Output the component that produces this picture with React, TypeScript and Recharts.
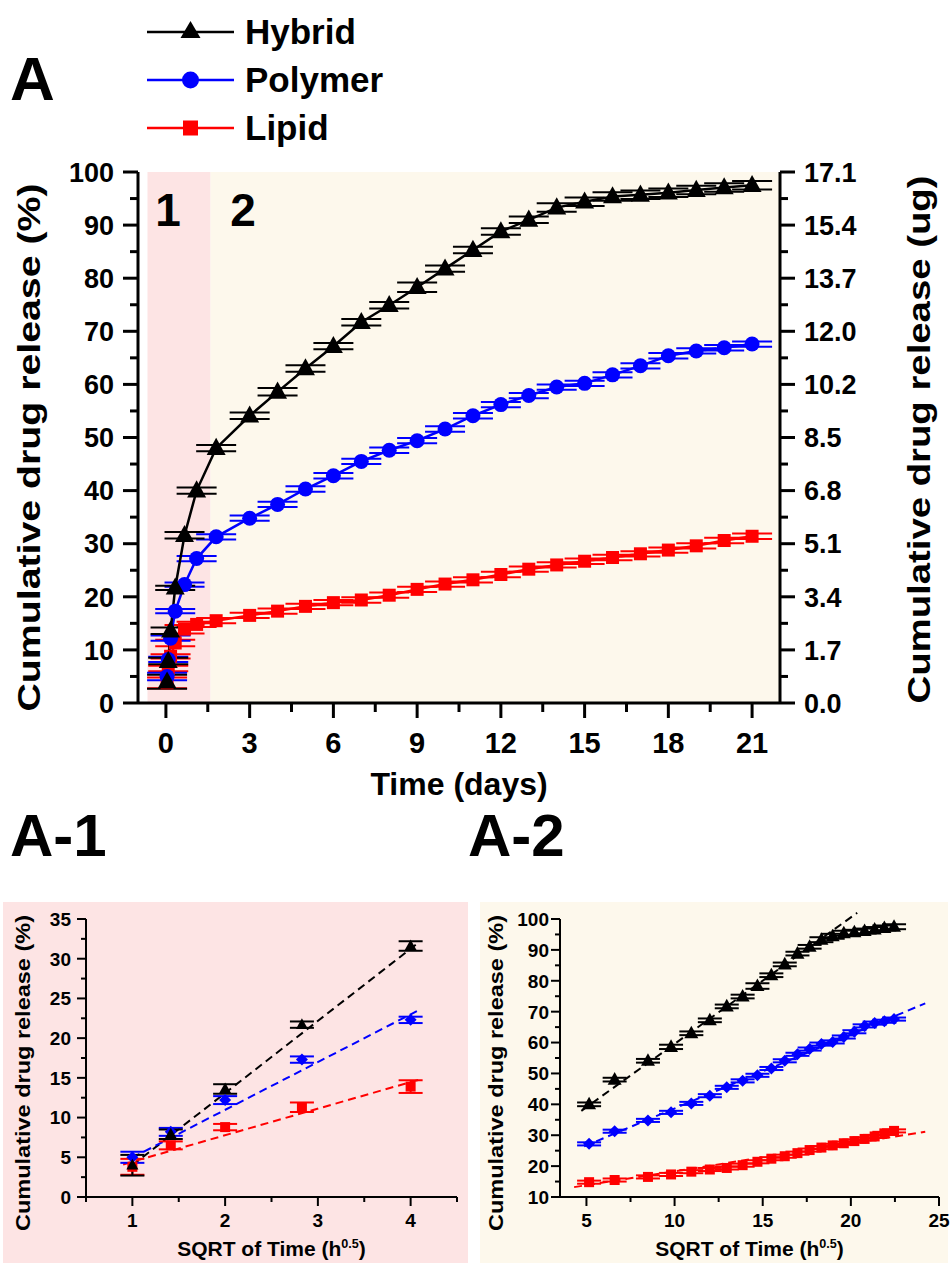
import React from 'react';
import { LineChart, Line, XAxis, YAxis, ReferenceArea, ReferenceLine, ErrorBar } from 'recharts';

const FONT = '"Liberation Sans", Arial, Helvetica, sans-serif';
const PINK = '#fde4e4';
const CREAM = '#fdf8ec';
const BLACK = '#000000';
const BLUE = '#0000ff';
const RED = '#ff0000';

// Panel A: time points (days) and cumulative release (%)
const TIME_DAYS = [0.042, 0.083, 0.167, 0.333, 0.667, 1.1, 1.8, 3, 4, 5, 6, 7, 8, 9, 10, 11, 12, 13, 14, 15, 16, 17, 18, 19, 20, 21];
const HYBRID = [4.0, 7.9, 13.6, 21.7, 31.6, 40.0, 48.0, 54.1, 58.6, 63.0, 67.2, 71.7, 74.9, 78.3, 81.8, 85.3, 88.8, 91.0, 93.3, 94.4, 95.4, 95.7, 96.1, 96.6, 97.1, 97.5];
const POLYMER = [5.0, 8.2, 12.2, 17.3, 22.3, 27.2, 31.3, 34.8, 37.4, 40.3, 42.8, 45.5, 47.6, 49.4, 51.6, 54.1, 56.2, 57.9, 59.5, 60.2, 61.8, 63.5, 65.4, 66.3, 66.9, 67.6];
const LIPID = [3.8, 6.5, 8.8, 11.3, 13.9, 14.8, 15.5, 16.5, 17.3, 18.2, 18.9, 19.4, 20.3, 21.4, 22.4, 23.2, 24.2, 25.2, 26.0, 26.7, 27.4, 28.1, 28.8, 29.6, 30.6, 31.4];
const HYBRID_ERR = [1.3, 0.6, 0.6, 0.4, 0.6, 0.6, 0.6, 0.6, 0.7, 0.6, 0.6, 0.6, 0.6, 0.9, 0.6, 0.6, 0.6, 0.6, 0.8, 0.8, 0.8, 0.8, 0.8, 0.8, 0.8, 0.8];
const POLYMER_ERR = [0.7, 0.5, 0.5, 0.4, 0.4, 0.5, 0.5, 0.5, 0.5, 0.5, 0.5, 0.5, 0.5, 0.5, 0.5, 0.5, 0.5, 0.5, 0.5, 0.5, 0.5, 0.5, 0.5, 0.5, 0.5, 0.5];
const LIPID_ERR = [1.0, 0.5, 0.4, 0.6, 0.8, 0.5, 0.5, 0.5, 0.5, 0.5, 0.5, 0.5, 0.5, 0.5, 0.5, 0.5, 0.5, 0.5, 0.5, 0.5, 0.5, 0.5, 0.5, 0.5, 0.5, 0.5];

const X_MAJOR_A = [0, 3, 6, 9, 12, 15, 18, 21];
const X_MINOR_A = [1.5, 4.5, 7.5, 10.5, 13.5, 16.5, 19.5];
const Y_MAJOR_A = [0, 10, 20, 30, 40, 50, 60, 70, 80, 90, 100];
const Y_MINOR_A = [5, 15, 25, 35, 45, 55, 65, 75, 85, 95];
const RIGHT_LABELS = ['0.0', '1.7', '3.4', '5.1', '6.8', '8.5', '10.2', '12.0', '13.7', '15.4', '17.1'];

// Panel A-1: sqrt(time) for the first five points
const SQRT_A1 = [1, 1.414, 2, 2.828, 4];
const X_MAJOR_A1 = [1, 2, 3, 4];
const X_MINOR_A1 = [0.5, 1.5, 2.5, 3.5, 4.5];
const Y_MAJOR_A1 = [0, 5, 10, 15, 20, 25, 30, 35];
const Y_MINOR_A1 = [2.5, 7.5, 12.5, 17.5, 22.5, 27.5, 32.5];
const HYBRID_FIT_A1 = [{ x: 1, y: 4.0 }, { x: 4.06, y: 31.8 }];
const POLYMER_FIT_A1 = [{ x: 1, y: 4.96 }, { x: 4.1, y: 23.6 }];
const LIPID_FIT_A1 = [{ x: 0.9, y: 4.1 }, { x: 4.1, y: 14.8 }];

// Panel A-2: sqrt(time) for the remaining points
const SQRT_A2 = [5.15, 6.6, 8.49, 9.8, 10.95, 12.0, 12.96, 13.86, 14.7, 15.49, 16.25, 16.97, 17.66, 18.33, 18.97, 19.6, 20.2, 20.78, 21.35, 21.9, 22.45];
const X_MAJOR_A2 = [5, 10, 15, 20, 25];
const X_MINOR_A2 = [7.5, 12.5, 17.5, 22.5];
const Y_MAJOR_A2 = [10, 20, 30, 40, 50, 60, 70, 80, 90, 100];
const Y_MINOR_A2 = [15, 25, 35, 45, 55, 65, 75, 85, 95];
const HYBRID_FIT_A2 = [{ x: 4.71, y: 37.9 }, { x: 20.36, y: 102 }];
const POLYMER_FIT_A2 = [{ x: 4.87, y: 26.4 }, { x: 24.22, y: 72.7 }];
const LIPID_FIT_A2 = [{ x: 4.3, y: 13.2 }, { x: 24.22, y: 31.1 }];

const mainData = TIME_DAYS.map((t, i) => ({
    t, h: HYBRID[i], p: POLYMER[i], l: LIPID[i], hE: HYBRID_ERR[i], pE: POLYMER_ERR[i], lE: LIPID_ERR[i],
}));
const a1Data = SQRT_A1.map((s, i) => ({
    s, h: HYBRID[i], p: POLYMER[i], l: LIPID[i], hE: HYBRID_ERR[i], pE: POLYMER_ERR[i], lE: LIPID_ERR[i],
}));
const a2Data = SQRT_A2.map((s, k) => {
    const i = k + 5;
    return { s, h: HYBRID[i], p: POLYMER[i], l: LIPID[i], hE: HYBRID_ERR[i], pE: POLYMER_ERR[i], lE: LIPID_ERR[i] };
});

// markers
const triangle = (size: number, color: string) => (props: any) => {
    const { cx, cy, index } = props;
    if (cx == null || cy == null) return <g key={index} />;
    const h = size * 0.9;
    return <path key={index} d={`M${cx},${cy - h * 0.6} L${cx + size / 2},${cy + h * 0.4} L${cx - size / 2},${cy + h * 0.4} Z`} fill={color} />;
};
const circle = (r: number, color: string) => (props: any) => {
    const { cx, cy, index } = props;
    if (cx == null || cy == null) return <g key={index} />;
    return <circle key={index} cx={cx} cy={cy} r={r} fill={color} />;
};
const square = (size: number, color: string) => (props: any) => {
    const { cx, cy, index } = props;
    if (cx == null || cy == null) return <g key={index} />;
    return <rect key={index} x={cx - size / 2} y={cy - size / 2} width={size} height={size} fill={color} />;
};
const diamond = (size: number, color: string) => (props: any) => {
    const { cx, cy, index } = props;
    if (cx == null || cy == null) return <g key={index} />;
    const s = size / 2;
    return <path key={index} d={`M${cx},${cy - s} L${cx + s},${cy} L${cx},${cy + s} L${cx - s},${cy} Z`} fill={color} />;
};

type TickOpts = { orient: 'bottom' | 'left' | 'right'; majors: number[]; fontSize: number; major: number; minor: number; gap: number; labels?: string[] };

const makeTick = (o: TickOpts) => (props: any) => {
    const { x, y, payload } = props;
    const v = payload.value;
    const isMajor = o.majors.includes(v);
    const len = isMajor ? o.major : o.minor;
    const label = o.labels ? o.labels[o.majors.indexOf(v)] : String(v);
    const sw = o.fontSize > 24 ? 3 : 2;
    if (o.orient === 'bottom') {
        return (
            <g>
                <line x1={x} x2={x} y1={y} y2={y + len} stroke={BLACK} strokeWidth={sw} />
                {isMajor && <text x={x} y={y + o.gap} textAnchor="middle" fontSize={o.fontSize} fontWeight={700} fontFamily={FONT} fill={BLACK}>{label}</text>}
            </g>
        );
    }
    const sign = o.orient === 'left' ? -1 : 1;
    return (
        <g>
            <line x1={x} x2={x + sign * len} y1={y} y2={y} stroke={BLACK} strokeWidth={sw} />
            {isMajor && (
                <text x={x + sign * (o.major + o.gap)} y={y} dy="0.36em" textAnchor={o.orient === 'left' ? 'end' : 'start'}
                    fontSize={o.fontSize} fontWeight={700} fontFamily={FONT} fill={BLACK}>{label}</text>
            )}
        </g>
    );
};

const vTitle = (text: string, dx: number, dy: number, fontSize: number, length: number) => (props: any) => {
    const vb = props.viewBox;
    const cx = vb.x + dx;
    const cy = vb.y + vb.height / 2 + dy;
    return (
        <text x={cx} y={cy} transform={`rotate(-90 ${cx} ${cy})`} textAnchor="middle" dominantBaseline="central"
            fontSize={fontSize} fontWeight={700} fontFamily={FONT} fill={BLACK} textLength={length} lengthAdjust="spacingAndGlyphs">
            {text}
        </text>
    );
};

const hTitle = (dy: number, fontSize: number, sup: boolean, text: string) => (props: any) => {
    const vb = props.viewBox;
    const cx = vb.x + vb.width / 2;
    return (
        <text x={cx} y={vb.y + dy} textAnchor="middle" fontSize={fontSize} fontWeight={700} fontFamily={FONT} fill={BLACK}>
            {text}
            {sup && <tspan fontSize={fontSize * 0.6} dy={-fontSize * 0.4}>0.5</tspan>}
            {sup && <tspan dy={fontSize * 0.4}>)</tspan>}
        </text>
    );
};

const axisLine = (w: number) => ({ stroke: BLACK, strokeWidth: w });

function MainChart() {
    const yTicks = [...Y_MAJOR_A, ...Y_MINOR_A].sort((a, b) => a - b);
    return (
        <LineChart width={952} height={820} data={mainData} margin={{ top: 172, right: 92, bottom: 57, left: 78 }}>
            <XAxis dataKey="t" type="number" domain={[-1, 22]} ticks={[...X_MAJOR_A, ...X_MINOR_A].sort((a, b) => a - b)} interval={0}
                tickSize={0} tickMargin={0} tickLine={false} axisLine={axisLine(3)} height={60}
                tick={makeTick({ orient: 'bottom', majors: X_MAJOR_A, fontSize: 29, major: 15, minor: 9, gap: 50 })}
                label={hTitle(92, 32, false, 'Time (days)')} />
            <YAxis yAxisId="left" type="number" domain={[0, 100]} ticks={yTicks} interval={0}
                tickSize={0} tickMargin={0} tickLine={false} axisLine={axisLine(3)} width={60}
                tick={makeTick({ orient: 'left', majors: Y_MAJOR_A, fontSize: 27, major: 15, minor: 8, gap: 9 })}
                label={vTitle('Cumulative drug release (%)', -49, 10, 31, 528)} />
            <YAxis yAxisId="right" orientation="right" type="number" domain={[0, 100]} ticks={yTicks} interval={0}
                tickSize={0} tickMargin={0} tickLine={false} axisLine={axisLine(3)} width={80}
                tick={makeTick({ orient: 'right', majors: Y_MAJOR_A, fontSize: 27, major: 15, minor: 8, gap: 9, labels: RIGHT_LABELS })}
                label={vTitle('Cumulative drug release (ug)', 139, 2, 31, 528)} />
            <ReferenceArea yAxisId="left" x1={-0.66} x2={1.6} y1={0} y2={100} fill={PINK} fillOpacity={1} stroke="none" />
            <ReferenceArea yAxisId="left" x1={1.6} x2={22} y1={0} y2={100} fill={CREAM} fillOpacity={1} stroke="none" />
            {/* the ug axis is the same scale as %, this hidden series just keeps it on screen */}
            <Line yAxisId="right" dataKey="h" stroke="none" dot={false} activeDot={false} isAnimationActive={false} />
            <Line yAxisId="left" dataKey="l" stroke={RED} strokeWidth={2.5} dot={square(13, RED)} activeDot={false} isAnimationActive={false}>
                <ErrorBar dataKey="lE" width={20} stroke={RED} strokeWidth={2} />
            </Line>
            <Line yAxisId="left" dataKey="p" stroke={BLUE} strokeWidth={2.5} dot={circle(7.5, BLUE)} activeDot={false} isAnimationActive={false}>
                <ErrorBar dataKey="pE" width={20} stroke={BLUE} strokeWidth={2} />
            </Line>
            <Line yAxisId="left" dataKey="h" stroke={BLACK} strokeWidth={2.5} dot={triangle(19, BLACK)} activeDot={false} isAnimationActive={false}>
                <ErrorBar dataKey="hE" width={20} stroke={BLACK} strokeWidth={2} />
            </Line>
        </LineChart>
    );
}

function SubChart(props: {
    data: any[]; domainX: [number, number]; domainY: [number, number];
    xMajor: number[]; xMinor: number[]; yMajor: number[]; yMinor: number[];
    fits: { pts: { x: number; y: number }[]; color: string }[];
    marks: [(p: any) => any, (p: any) => any, (p: any) => any];
    margin: { top: number; right: number; bottom: number; left: number };
    yGap: number; titleDx: number;
}) {
    const { data, domainX, domainY, xMajor, xMinor, yMajor, yMinor, fits, marks, margin } = props;
    return (
        <LineChart width={476} height={383} data={data} margin={margin}>
            <XAxis dataKey="s" type="number" domain={domainX} ticks={[...xMajor, ...xMinor].sort((a, b) => a - b)} interval={0}
                tickSize={0} tickMargin={0} tickLine={false} axisLine={axisLine(2)} height={60} allowDataOverflow
                tick={makeTick({ orient: 'bottom', majors: xMajor, fontSize: 19, major: 9, minor: 5, gap: 30 })}
                label={hTitle(59, 21, true, 'SQRT of Time (h')} />
            <YAxis type="number" domain={domainY} ticks={[...yMajor, ...yMinor].sort((a, b) => a - b)} interval={0}
                tickSize={0} tickMargin={0} tickLine={false} axisLine={axisLine(2)} width={60} allowDataOverflow
                tick={makeTick({ orient: 'left', majors: yMajor, fontSize: 19, major: 9, minor: 5, gap: props.yGap })}
                label={vTitle('Cumulative drug release (%)', props.titleDx, 15, 21, 316)} />
            {fits.map((f, i) => (
                <ReferenceLine key={i} segment={f.pts} stroke={f.color} strokeWidth={2} strokeDasharray="8 5" ifOverflow="visible" />
            ))}
            <Line dataKey="l" stroke="none" dot={marks[2]} activeDot={false} isAnimationActive={false}>
                <ErrorBar dataKey="lE" width={12} stroke={RED} strokeWidth={2} />
            </Line>
            <Line dataKey="p" stroke="none" dot={marks[1]} activeDot={false} isAnimationActive={false}>
                <ErrorBar dataKey="pE" width={12} stroke={BLUE} strokeWidth={2} />
            </Line>
            <Line dataKey="h" stroke="none" dot={marks[0]} activeDot={false} isAnimationActive={false}>
                <ErrorBar dataKey="hE" width={12} stroke={BLACK} strokeWidth={2} />
            </Line>
        </LineChart>
    );
}

const LEGEND = [
    { name: 'Hybrid', color: BLACK, y: 32, mark: 'tri' },
    { name: 'Polymer', color: BLUE, y: 80, mark: 'circ' },
    { name: 'Lipid', color: RED, y: 128, mark: 'sq' },
];

const bigText: React.CSSProperties = { position: 'absolute', fontFamily: FONT, fontWeight: 700, color: BLACK, lineHeight: 1, margin: 0 };

export default function App() {
    return (
        <div style={{ position: 'absolute', left: 0, top: 0, width: 952, height: 1263, background: '#fff', overflow: 'hidden' }}>
            <div style={{ position: 'absolute', left: 0, top: 0 }}>
                <MainChart />
            </div>
            <svg width={952} height={260} style={{ position: 'absolute', left: 0, top: 0 }}>
                {LEGEND.map((e) => (
                    <g key={e.name}>
                        <line x1={147} x2={234} y1={e.y} y2={e.y} stroke={e.color} strokeWidth={2.5} />
                        {e.mark === 'tri' && <path d={`M190.5,${e.y - 11} L200.5,${e.y + 6} L180.5,${e.y + 6} Z`} fill={e.color} />}
                        {e.mark === 'circ' && <circle cx={190.5} cy={e.y} r={8.5} fill={e.color} />}
                        {e.mark === 'sq' && <rect x={183} y={e.y - 7.5} width={15} height={15} fill={e.color} />}
                        <text x={245} y={e.y + 12} fontSize={35} fontWeight={700} fontFamily={FONT} fill={BLACK}>{e.name}</text>
                    </g>
                ))}
                <text x={10} y={100} fontSize={62} fontWeight={700} fontFamily={FONT}>A</text>
                <text x={168} y={226} textAnchor="middle" fontSize={46} fontWeight={700} fontFamily={FONT}>1</text>
                <text x={243} y={226} textAnchor="middle" fontSize={46} fontWeight={700} fontFamily={FONT}>2</text>
            </svg>
            <div style={{ ...bigText, left: 10, top: 806, fontSize: 60 }}>A-1</div>
            <div style={{ ...bigText, left: 468, top: 806, fontSize: 60 }}>A-2</div>
            <div style={{ position: 'absolute', left: 3, top: 902, width: 465, height: 361, background: PINK }} />
            <div style={{ position: 'absolute', left: 480, top: 902, width: 468, height: 361, background: CREAM }} />
            <div style={{ position: 'absolute', left: 0, top: 880 }}>
                <SubChart data={a1Data} domainX={[0.5, 4.5]} domainY={[0, 35]}
                    xMajor={X_MAJOR_A1} xMinor={X_MINOR_A1} yMajor={Y_MAJOR_A1} yMinor={Y_MINOR_A1}
                    fits={[{ pts: HYBRID_FIT_A1, color: BLACK }, { pts: POLYMER_FIT_A1, color: BLUE }, { pts: LIPID_FIT_A1, color: RED }]}
                    marks={[triangle(12, BLACK), diamond(12, BLUE), square(10, RED)]}
                    margin={{ top: 39, right: 19, bottom: 6, left: 26 }} yGap={6} titleDx={-4} />
            </div>
            <div style={{ position: 'absolute', left: 476, top: 880 }}>
                <SubChart data={a2Data} domainX={[3.5, 25]} domainY={[10, 100]}
                    xMajor={X_MAJOR_A2} xMinor={X_MINOR_A2} yMajor={Y_MAJOR_A2} yMinor={Y_MINOR_A2}
                    fits={[{ pts: HYBRID_FIT_A2, color: BLACK }, { pts: POLYMER_FIT_A2, color: BLUE }, { pts: LIPID_FIT_A2, color: RED }]}
                    marks={[triangle(14, BLACK), diamond(12, BLUE), square(10, RED)]}
                    margin={{ top: 39, right: 13, bottom: 6, left: 24 }} yGap={2} titleDx={-5} />
            </div>
        </div>
    );
}
